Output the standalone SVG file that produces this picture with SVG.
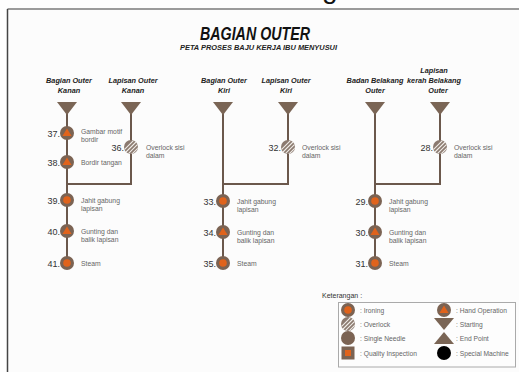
<svg xmlns="http://www.w3.org/2000/svg" xmlns:xlink="http://www.w3.org/1999/xlink" width="519" height="372" viewBox="0 0 519 372">
<style>
text{font-family:"Liberation Sans",Arial,sans-serif}
.title{font-size:18px;font-weight:bold;font-style:italic;fill:#111;text-anchor:middle}
.sub{font-size:8px;font-weight:bold;font-style:italic;fill:#222;text-anchor:middle}
.hdr{font-size:7.3px;font-weight:bold;font-style:italic;fill:#222;text-anchor:middle}
.num{font-size:9px;fill:#333;text-anchor:end}
.lbl{font-size:6.8px;fill:#666}
.leg{font-size:6.7px;fill:#666}
.con{stroke:#6b584c;stroke-width:2;fill:none}
</style>
<defs>
<clipPath id="cc"><circle r="7"/></clipPath>
<g id="start"><polygon points="-10,0 10,0 0,13" fill="#7a6555"/></g>
<g id="ironing"><circle r="7" fill="#7b6353"/><circle r="3.8" fill="#e0631c"/></g>
<g id="hand"><circle r="7" fill="#7b6353"/><polygon points="0,-4.5 4.6,3 -4.6,3" fill="#e0631c"/></g>
<g id="overlock"><circle r="7" fill="#8b7a70"/><g clip-path="url(#cc)" stroke="#f2eeea" stroke-width="1.1"><line x1="-8" y1="4" x2="4" y2="-8"/><line x1="-6" y1="6" x2="6" y2="-6"/><line x1="-4" y1="8" x2="8" y2="-4"/><line x1="-2" y1="10" x2="10" y2="-2"/></g></g>
</defs>
<rect x="0" y="0" width="519" height="372" fill="#fefefe"/>
<text x="322" y="-2" style="font-size:28px;fill:#111">g</text>
<rect x="7.5" y="9.5" width="600" height="400" fill="#fcfcfc" stroke="none"/>
<line x1="7.5" y1="9" x2="519" y2="9" stroke="#7a7a7a" stroke-width="1.5"/>
<line x1="7.5" y1="9" x2="7.5" y2="372" stroke="#444" stroke-width="1.5"/>

<text class="title" x="255" y="40" textLength="110" lengthAdjust="spacingAndGlyphs">BAGIAN OUTER</text>
<text class="sub" x="258.5" y="50" textLength="157" lengthAdjust="spacingAndGlyphs">PETA PROSES BAJU KERJA IBU MENYUSUI</text>

<g id="connectors">
<path class="con" d="M67 112V263M131 112V184H67"/>
<path class="con" d="M223 112V263M288 112V184H223"/>
<path class="con" d="M375 112V263M440 112V184H375"/>
</g>

<g id="start1"><text class="hdr" x="69" y="83">Bagian Outer</text><text class="hdr" x="69" y="93">Kanan</text><use xlink:href="#start" x="67" y="102"/></g>
<g id="start2"><text class="hdr" x="133" y="83">Lapisan Outer</text><text class="hdr" x="133" y="93">Kanan</text><use xlink:href="#start" x="131" y="102"/></g>
<g id="start3"><text class="hdr" x="224" y="83">Bagian Outer</text><text class="hdr" x="224" y="93">Kiri</text><use xlink:href="#start" x="223" y="102"/></g>
<g id="start4"><text class="hdr" x="286" y="83">Lapisan Outer</text><text class="hdr" x="286" y="93">Kiri</text><use xlink:href="#start" x="288" y="102"/></g>
<g id="start5"><text class="hdr" x="375" y="83">Badan Belakang</text><text class="hdr" x="375" y="93">Outer</text><use xlink:href="#start" x="375" y="102"/></g>
<g id="start6"><text class="hdr" x="434" y="73">Lapisan</text><text class="hdr" x="434" y="83">kerah Belakang</text><text class="hdr" x="438" y="93">Outer</text><use xlink:href="#start" x="440" y="102"/></g>

<g id="n37"><use xlink:href="#hand" x="67" y="133"/><text class="num" x="60" y="136.5">37.</text><text class="lbl" x="81" y="133.5">Gambar motif</text><text class="lbl" x="81" y="142">bordir</text></g>
<g id="n38"><use xlink:href="#hand" x="67" y="162"/><text class="num" x="60" y="165.5">38.</text><text class="lbl" x="81" y="164.5">Bordir tangan</text></g>
<g id="n36"><use xlink:href="#overlock" x="131" y="147"/><text class="num" x="124" y="150.5">36.</text><text class="lbl" x="146" y="149.5">Overlock sisi</text><text class="lbl" x="146" y="158">dalam</text></g>
<g id="n39"><use xlink:href="#ironing" x="67" y="200"/><text class="num" x="60" y="203.5">39.</text><text class="lbl" x="81" y="202.5">Jahit gabung</text><text class="lbl" x="81" y="211">lapisan</text></g>
<g id="n40"><use xlink:href="#hand" x="67" y="231"/><text class="num" x="60" y="234.5">40.</text><text class="lbl" x="81" y="233.5">Gunting dan</text><text class="lbl" x="81" y="242">balik lapisan</text></g>
<g id="n41"><use xlink:href="#ironing" x="67" y="263"/><text class="num" x="60" y="266.5">41.</text><text class="lbl" x="81" y="265.5">Steam</text></g>

<g id="n32"><use xlink:href="#overlock" x="288" y="147"/><text class="num" x="281" y="150.5">32.</text><text class="lbl" x="302" y="149.5">Overlock sisi</text><text class="lbl" x="302" y="158">dalam</text></g>
<g id="n33"><use xlink:href="#ironing" x="223" y="201"/><text class="num" x="216" y="204.5">33.</text><text class="lbl" x="237" y="203.5">Jahit gabung</text><text class="lbl" x="237" y="212">lapisan</text></g>
<g id="n34"><use xlink:href="#hand" x="223" y="232"/><text class="num" x="216" y="235.5">34.</text><text class="lbl" x="237" y="234.5">Gunting dan</text><text class="lbl" x="237" y="243">balik lapisan</text></g>
<g id="n35"><use xlink:href="#ironing" x="223" y="263"/><text class="num" x="216" y="266.5">35.</text><text class="lbl" x="237" y="265.5">Steam</text></g>

<g id="n28"><use xlink:href="#overlock" x="440" y="147"/><text class="num" x="433" y="150.5">28.</text><text class="lbl" x="454" y="149.5">Overlock sisi</text><text class="lbl" x="454" y="158">dalam</text></g>
<g id="n29"><use xlink:href="#ironing" x="375" y="201"/><text class="num" x="368" y="204.5">29.</text><text class="lbl" x="389" y="203.5">Jahit gabung</text><text class="lbl" x="389" y="212">lapisan</text></g>
<g id="n30"><use xlink:href="#hand" x="375" y="232"/><text class="num" x="368" y="235.5">30.</text><text class="lbl" x="389" y="234.5">Gunting dan</text><text class="lbl" x="389" y="243">balik lapisan</text></g>
<g id="n31"><use xlink:href="#ironing" x="375" y="263"/><text class="num" x="368" y="266.5">31.</text><text class="lbl" x="389" y="265.5">Steam</text></g>

<g id="legend">
<text x="322" y="297.5" style="font-size:7px;fill:#333">Keterangan :</text>
<rect x="338.5" y="302.5" width="177" height="64.5" fill="#fdfdfd" stroke="#aaa" stroke-width="1"/>
<use xlink:href="#ironing" x="348" y="310"/><text class="leg" x="360" y="312.5">: Ironing</text>
<use xlink:href="#overlock" x="348" y="324"/><text class="leg" x="360" y="326.5">: Overlock</text>
<circle cx="348" cy="338" r="7" fill="#7b6353"/><text class="leg" x="360" y="340.5">: Single Needle</text>
<rect x="341.5" y="346.5" width="13" height="13" fill="#7b6353"/><rect x="345" y="350" width="6" height="6" fill="#e0631c"/><text class="leg" x="360" y="355.5">: Quality Inspection</text>
<use xlink:href="#hand" x="444" y="310"/><text class="leg" x="456" y="312.5">: Hand Operation</text>
<polygon points="434,318 454,318 444,330" fill="#7a6555"/><text class="leg" x="456" y="326.5">: Starting</text>
<polygon points="434,344 454,344 444,332" fill="#7a6555"/><text class="leg" x="456" y="340.5">: End Point</text>
<circle cx="444" cy="353" r="7" fill="#000"/><text class="leg" x="456" y="355.5">: Special Machine</text>
</g>
</svg>
